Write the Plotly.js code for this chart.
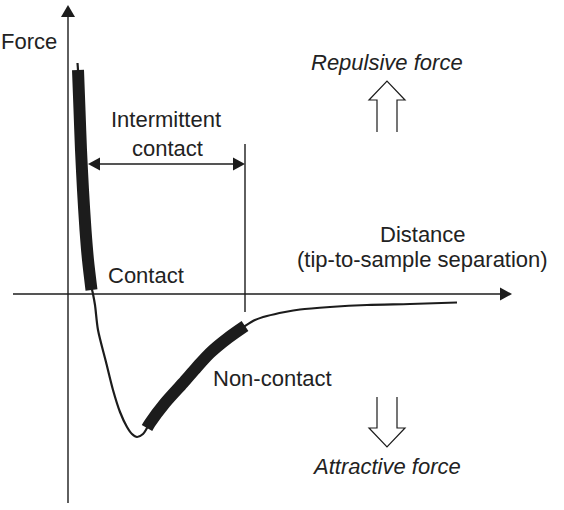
<!DOCTYPE html>
<html>
<head>
<meta charset="utf-8">
<script src="https://cdn.plot.ly/plotly-3.0.1.min.js"></script>
<style>html,body{margin:0;padding:0;background:#fff;}#chart{width:564px;height:510px;}</style>
</head>
<body>
<div id="chart"></div>
<script>
// Force–distance curve (tip-to-sample separation) (arbitrary units)
const distance = [9.5, 10, 11.5, 13, 15, 17.5, 20, 23, 25, 27, 30, 38, 45, 52, 59, 64, 69, 75, 79, 82, 97, 115, 129, 142, 160, 177, 187, 199, 217, 232, 262, 299, 342, 389];
const force    = [231, 224, 184, 144, 104, 64, 34, 9, 0, -11, -36, -68, -96, -118, -133, -140, -143, -140, -134, -129, -109, -89, -73, -59, -44, -32, -26, -22, -18, -15.5, -13, -11, -10, -8.5];

// Highlighted operating regions
const contactDistance    = [10, 11.5, 13, 15, 17.5, 20, 23.5];
const contactForce       = [224, 184, 144, 104, 64, 34, 4];
const nonContactDistance = [79, 82, 97, 115, 129, 142, 160, 177];
const nonContactForce    = [-134, -129, -109, -89, -73, -59, -44, -32];

// Axis extents and region boundary
const xAxisStart = -55, xAxisEnd = 444;
const yAxisStart = -209, yAxisEnd = 289;
const intermittentStart = 20, intermittentEnd = 177;
const intermittentLevel = 130;
const boundaryTop = 150, boundaryBottom = -18;

// Labels
const labels = {
  force: "Force",
  intermittent: ["Intermittent", "contact"],
  contact: "Contact",
  distance: ["Distance", "(tip-to-sample separation)"],
  nonContact: "Non-contact",
  repulsive: "Repulsive force",
  attractive: "Attractive force"
};

const INK = "#1c1c1c";
const FONT = "Liberation Sans, Arial, sans-serif";
const FS = 22;

const traces = [
  {x: distance, y: force, mode: "lines", line: {color: INK, width: 2.2, shape: "spline", smoothing: 0.8}, hoverinfo: "skip"},
  {x: contactDistance, y: contactForce, mode: "lines", line: {color: INK, width: 12, shape: "spline", smoothing: 0.8}, hoverinfo: "skip"},
  {x: nonContactDistance, y: nonContactForce, mode: "lines", line: {color: INK, width: 12, shape: "spline", smoothing: 0.8}, hoverinfo: "skip"}
];

function tri(ax, ay, bx, by, cx, cy) {
  return `M${ax},${ay} L${bx},${by} L${cx},${cy} Z`;
}
const thin = {color: INK, width: 1.4};
const shapes = [
  // x axis
  {type: "line", x0: xAxisStart, y0: 0, x1: xAxisEnd - 12, y1: 0, line: thin},
  {type: "path", path: tri(xAxisEnd, 0, xAxisEnd - 12, 6.5, xAxisEnd - 12, -6.5), fillcolor: INK, line: {width: 0}},
  // y axis
  {type: "line", x0: 0, y0: yAxisStart, x1: 0, y1: yAxisEnd - 12, line: thin},
  {type: "path", path: tri(0, yAxisEnd, -7, yAxisEnd - 12, 7, yAxisEnd - 12), fillcolor: INK, line: {width: 0}},
  // region boundary
  {type: "line", x0: intermittentEnd, y0: boundaryBottom, x1: intermittentEnd, y1: boundaryTop, line: thin},
  // double arrow
  {type: "line", x0: intermittentStart + 10, y0: intermittentLevel, x1: intermittentEnd - 10, y1: intermittentLevel, line: {color: INK, width: 1.6}},
  {type: "path", path: tri(intermittentStart, intermittentLevel, intermittentStart + 12, intermittentLevel + 6.5, intermittentStart + 12, intermittentLevel - 6.5), fillcolor: INK, line: {width: 0}},
  {type: "path", path: tri(intermittentEnd, intermittentLevel, intermittentEnd - 12, intermittentLevel + 6.5, intermittentEnd - 12, intermittentLevel - 6.5), fillcolor: INK, line: {width: 0}},
  // hollow up arrow (repulsive)
  {type: "path", path: "M309,162 L309,194 L301,194 L319,213 L337,194 L329,194 L329,162", line: {color: INK, width: 1.2}, fillcolor: "rgba(0,0,0,0)"},
  // hollow down arrow (attractive)
  {type: "path", path: "M309,-103 L309,-134 L301,-134 L319,-153 L337,-134 L329,-134 L329,-103", line: {color: INK, width: 1.2}, fillcolor: "rgba(0,0,0,0)"}
];

function ann(text, x, y, italic) {
  return {text: text, x: x, y: y, xref: "x", yref: "y", showarrow: false, xanchor: "center", yanchor: "middle",
    borderpad: 0,
    font: {family: FONT, size: FS, color: "#222", style: italic ? "italic" : "normal"}};
}
const annotations = [
  ann(labels.force, -39, 253),
  ann(labels.intermittent[0], 98, 175),
  ann(labels.intermittent[1], 99, 146),
  ann(labels.contact, 78, 19),
  ann(labels.distance[0], 355, 60),
  ann(labels.distance[1], 354, 35),
  ann(labels.nonContact, 204, -84),
  ann(labels.repulsive, 319, 232, true),
  ann(labels.attractive, 318, -172, true)
];

const layout = {
  width: 564, height: 510,
  margin: {l: 0, r: 0, t: 0, b: 0, pad: 0},
  paper_bgcolor: "#fff", plot_bgcolor: "#fff",
  showlegend: false,
  xaxis: {range: [-68, 496], visible: false, fixedrange: true},
  yaxis: {range: [-216, 294], visible: false, fixedrange: true},
  shapes: shapes,
  annotations: annotations
};

Plotly.newPlot("chart", traces, layout, {staticPlot: true, displayModeBar: false});
</script>
</body>
</html>
